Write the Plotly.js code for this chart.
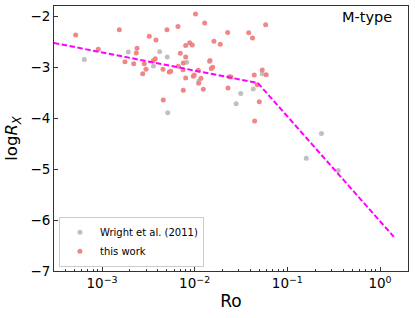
<!DOCTYPE html>
<html>
<head>
<meta charset="utf-8">
<script src="https://cdn.plot.ly/plotly-3.0.1.min.js"></script>
<style>html,body{margin:0;padding:0;background:#fff;}#chart{width:415px;height:318px;}</style>
</head>
<body>
<div id="chart"></div>
<script>
// log10(Ro) and log R_X
const workLogRo = [-3.284,-2.813,-3.040,-2.752,-2.658,-2.622,-2.630,-2.561,-2.525,-2.544,
  -2.490,-2.417,-2.447,-2.425,-2.342,-2.299,-2.274,-2.259,-2.180,-2.155,
  -2.097,-2.097,-2.123,-2.177,-2.126,-2.097,-2.123,-2.339,-2.054,-2.026,
  -1.991,-1.892,-1.961,-2.015,-2.004,-1.957,-1.907,-1.932,-1.835,-1.821,
  -1.806,-1.792,-1.724,-1.644,-1.627,-1.608,-1.641,-1.417,-1.376,-1.234,
  -1.357,-1.271,-1.228,-1.325,-1.303,-1.353];
const workLogRx = [-2.369,-2.265,-2.651,-2.892,-2.931,-2.631,-2.722,-3.127,-3.043,-2.931,
  -2.396,-2.467,-2.873,-2.833,-3.043,-2.265,-3.094,-3.082,-2.200,-2.729,
  -2.573,-2.800,-2.918,-2.984,-3.049,-3.212,-3.455,-3.643,-2.520,-2.565,
  -1.957,-2.133,-3.063,-3.180,-3.153,-3.314,-3.435,-3.220,-2.867,-3.024,
  -3.004,-2.494,-2.553,-2.318,-3.186,-3.192,-3.408,-2.324,-2.427,-2.167,
  -3.153,-3.055,-3.151,-3.343,-3.680,-4.059];
const wrightLogRo = [-3.191,-2.716,-2.444,-2.378,-2.296,-2.086,-1.954,-1.840,-2.291,-1.552,
  -1.503,-1.368,-1.271,-0.632,-0.796,-0.451];
const wrightLogRx = [-2.849,-2.702,-2.975,-2.700,-2.800,-2.902,-3.271,-2.888,-3.896,-3.716,
  -3.516,-3.427,-3.131,-4.304,-4.788,-5.029];
// broken power-law fit
const fitRo = [3.02e-4, 0.048, 1.41];
const fitLogRx = [-2.525, -3.31, -6.33];

const xTickVals = [1e-3, 1e-2, 1e-1, 1];
const xTickText = ['10<sup>−3</sup>','10<sup>−2</sup>','10<sup>−1</sup>','10<sup>0</sup>'];
const yTickVals = [-7,-6,-5,-4,-3,-2];
const yTickText = ['−7','−6','−5','−4','−3','−2'];

const minorVals = [];
for (let n = -4; n <= 0; n++) for (let k = 2; k <= 9; k++) minorVals.push(k * Math.pow(10, n));

const toRo = a => a.map(v => Math.pow(10, v));
const font = 'DejaVu Sans, sans-serif';

const traces = [
  {x: toRo(wrightLogRo), y: wrightLogRx, mode: 'markers', type: 'scatter', name: 'Wright et al. (2011)',
   marker: {color: 'silver', size: 5}},
  {x: toRo(workLogRo), y: workLogRx, mode: 'markers', type: 'scatter', name: 'this work',
   marker: {color: 'rgba(240,128,128,0.95)', size: 5}},
  {x: fitRo, y: fitLogRx, mode: 'lines', type: 'scatter', showlegend: false,
   line: {color: '#ff00ff', width: 2, dash: '5.5px,2.5px'}}
];

const layout = {
  width: 415, height: 318,
  margin: {l: 54, r: 7, t: 6, b: 47},
  paper_bgcolor: '#fff', plot_bgcolor: '#fff',
  font: {family: font, color: '#000'},
  showlegend: true,
  legend: {x: 0.014, y: 0.016, xanchor: 'left', yanchor: 'bottom',
    bgcolor: 'rgba(255,255,255,0.8)', bordercolor: '#cccccc', borderwidth: 1,
    font: {size: 10, family: font}},
  xaxis: {type: 'log', range: [-3.518, 0.302], showgrid: false, zeroline: false,
    showline: true, linecolor: '#333', linewidth: 1, mirror: true,
    ticks: 'inside', ticklen: 4, tickcolor: '#333',
    tickvals: xTickVals, ticktext: xTickText, tickfont: {size: 13.5, family: font},
    minor: {tickvals: minorVals, ticks: 'inside', ticklen: 2, tickcolor: '#333', showgrid: false},
    title: {text: 'Ro', font: {size: 17, family: font}, standoff: 4}},
  yaxis: {range: [-7, -1.8], showgrid: false, zeroline: false,
    showline: true, linecolor: '#333', linewidth: 1, mirror: true,
    ticks: 'inside', ticklen: 4, tickcolor: '#333',
    tickvals: yTickVals, ticktext: yTickText, tickfont: {size: 13.5, family: font},
    title: {text: 'log<i>R</i><sub><i>X</i></sub>', font: {size: 16.5, family: font}, standoff: 8}},
  annotations: [{xref: 'paper', yref: 'paper', x: 0.961, y: 0.957, xanchor: 'right', yanchor: 'middle',
    text: 'M-type', showarrow: false, font: {size: 14.5, family: font}}]
};

Plotly.newPlot('chart', traces, layout, {displayModeBar: false, staticPlot: true});
</script>
</body>
</html>
